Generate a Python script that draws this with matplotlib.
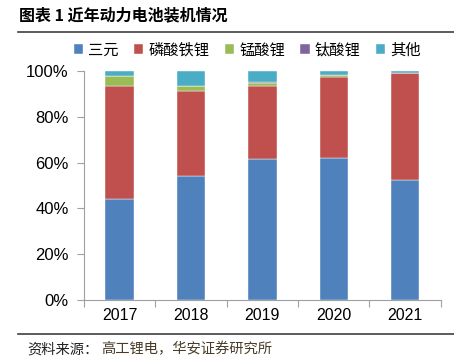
import matplotlib.pyplot as plt
from matplotlib.lines import Line2D
from matplotlib.ticker import PercentFormatter
import numpy as np

plt.rcParams['font.family'] = ['Noto Sans CJK SC', 'DejaVu Sans']

years = ['2017', '2018', '2019', '2020', '2021']
series = ['三元', '磷酸铁锂', '锰酸锂', '钛酸锂', '其他']
sanyuan = [44.1, 54.0, 61.7, 62.0, 52.4]
lfp = [49.7, 37.6, 32.1, 35.7, 46.8]
lmo = [4.1, 2.2, 0.9, 0.9, 0.1]
lto = [0.0, 0.0, 0.7, 0.0, 0.0]
other = [2.1, 6.2, 4.6, 1.4, 0.7]
colors = ['#4F81BD', '#C0504D', '#9BBB59', '#8064A2', '#4BACC6']

fig = plt.figure(figsize=(4.54, 3.64), dpi=100)
ax = fig.add_axes([0.185, 0.176, 0.786, 0.628])

x = np.arange(len(years))
bottom = np.zeros(len(years))
for name, vals, c in zip(series, [sanyuan, lfp, lmo, lto, other], colors):
    ax.bar(x, vals, width=0.4, bottom=bottom, color=c, label=name,
           edgecolor='white', linewidth=0.3)
    bottom += np.array(vals)

ax.set_xlim(-0.5, 4.5)
ax.set_ylim(0, 100)
ax.set_yticks(range(0, 101, 20))
ax.yaxis.set_major_formatter(PercentFormatter(decimals=0))
ax.set_xticks(np.arange(-0.5, 5, 1))
ax.set_xticklabels([])
ax.set_xticks(x, minor=True)
ax.set_xticklabels(years, minor=True, family='Liberation Sans', fontsize=11.5)
ax.tick_params(axis='x', which='minor', length=0, pad=6)
ax.tick_params(axis='x', which='major', length=5, color='#a0a0a0', direction='out')
ax.tick_params(axis='y', length=5, color='#a0a0a0', direction='out', pad=6)
for lab in ax.get_yticklabels():
    lab.set_family('Liberation Sans')
    lab.set_fontsize(12)
for s in ['top', 'right']:
    ax.spines[s].set_visible(False)
for s in ['left', 'bottom']:
    ax.spines[s].set_color('#a0a0a0')

fig.legend(loc='center', bbox_to_anchor=(0.545, 0.863), ncol=5, frameon=False,
           fontsize=11, handlelength=0.6, handleheight=0.6, handletextpad=0.35,
           columnspacing=1.0)

fig.text(0.042, 0.958, '图表 1 近年动力电池装机情况', fontsize=11.5, fontweight='bold',
         va='center', ha='left')
fig.add_artist(Line2D([0.04, 1.0], [0.912, 0.912], color='#404040', linewidth=1.2))
fig.add_artist(Line2D([0.04, 1.0], [0.083, 0.083], color='#404040', linewidth=1.2))
fig.text(0.06, 0.041, '资料来源：', fontsize=10.3, va='center', ha='left', color='#222222')
fig.text(0.222, 0.041, '高工锂电，华安证券研究所', fontsize=10.3, va='center', ha='left',
         color='#4a3c28')

fig.savefig('out.png', dpi=100)
